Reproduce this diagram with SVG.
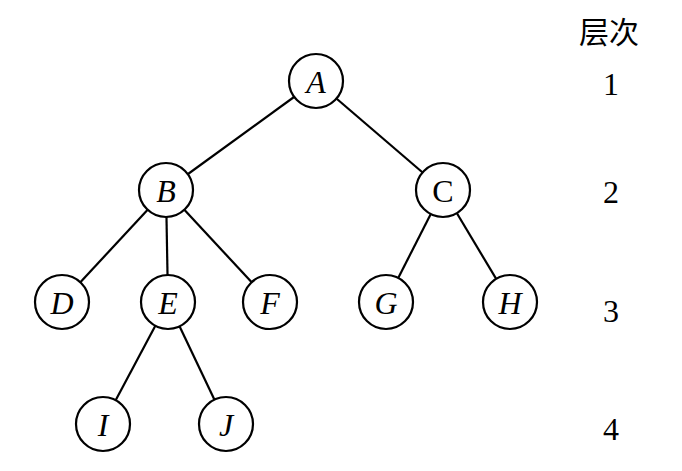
<svg xmlns="http://www.w3.org/2000/svg" width="682" height="471" viewBox="0 0 682 471">
<style>
.n circle{fill:#fff;stroke:#000;stroke-width:2.2}
.n text{font-family:"Liberation Serif",serif;font-style:italic;font-size:32px;text-anchor:middle;fill:#000}
#C text{font-style:normal}
#edges line{stroke:#000;stroke-width:2.2}
.lv{font-family:"Liberation Serif",serif;font-size:32px;text-anchor:middle;fill:#000}
.hd{font-family:"Liberation Serif","Noto Sans CJK SC",serif;font-size:30px;text-anchor:middle;fill:#000}
</style>
<rect width="682" height="471" fill="#fff"/>
<g id="edges">
<line x1="316" y1="81" x2="166" y2="190"/>
<line x1="316" y1="81" x2="443" y2="190"/>
<line x1="166" y1="190" x2="62" y2="302"/>
<line x1="166" y1="190" x2="168" y2="302"/>
<line x1="166" y1="190" x2="270" y2="302"/>
<line x1="443" y1="190" x2="386" y2="302"/>
<line x1="443" y1="190" x2="510" y2="302"/>
<line x1="168" y1="302" x2="103" y2="424"/>
<line x1="168" y1="302" x2="226" y2="424"/>
</g>
<g id="A" class="n"><circle cx="316" cy="81" r="27"/><text x="316" y="93">A</text></g>
<g id="B" class="n"><circle cx="166" cy="190" r="27"/><text x="166" y="202">B</text></g>
<g id="C" class="n"><circle cx="443" cy="190" r="27"/><text x="443" y="202">C</text></g>
<g id="D" class="n"><circle cx="62" cy="302" r="27"/><text x="62" y="314">D</text></g>
<g id="E" class="n"><circle cx="168" cy="302" r="27"/><text x="168" y="314">E</text></g>
<g id="F" class="n"><circle cx="270" cy="302" r="27"/><text x="270" y="314">F</text></g>
<g id="G" class="n"><circle cx="386" cy="302" r="27"/><text x="386" y="314">G</text></g>
<g id="H" class="n"><circle cx="510" cy="302" r="27"/><text x="510" y="314">H</text></g>
<g id="I" class="n"><circle cx="103" cy="424" r="27"/><text x="103" y="436">I</text></g>
<g id="J" class="n"><circle cx="226" cy="424" r="27"/><text x="226" y="436">J</text></g>
<g id="levels">
<text class="hd" x="609" y="43">层次</text>
<text class="lv" x="611" y="95">1</text>
<text class="lv" x="611" y="203">2</text>
<text class="lv" x="611" y="322">3</text>
<text class="lv" x="611" y="440">4</text>
</g>
</svg>
